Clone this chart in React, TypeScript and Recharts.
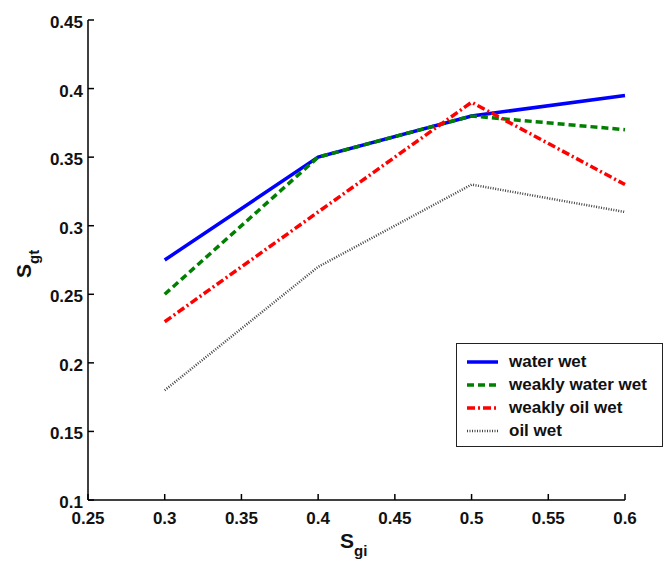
import { LineChart, Line, XAxis, YAxis } from 'recharts'

const sgi = [0.3, 0.4, 0.5, 0.6]
const waterWet = [0.275, 0.35, 0.38, 0.395]
const weaklyWaterWet = [0.25, 0.35, 0.38, 0.37]
const weaklyOilWet = [0.23, 0.31, 0.39, 0.33]
const oilWet = [0.18, 0.27, 0.33, 0.31]

const xTicks = [0.25, 0.3, 0.35, 0.4, 0.45, 0.5, 0.55, 0.6]
const yTicks = [0.1, 0.15, 0.2, 0.25, 0.3, 0.35, 0.4, 0.45]

const data = sgi.map((x, i) => ({
  x,
  waterWet: waterWet[i],
  weaklyWaterWet: weaklyWaterWet[i],
  weaklyOilWet: weaklyOilWet[i],
  oilWet: oilWet[i],
}))

const series = [
  { key: 'waterWet', name: 'water wet', color: '#0000ff', width: 3.5, dash: undefined },
  { key: 'weaklyWaterWet', name: 'weakly water wet', color: '#007f00', width: 3.5, dash: '7 4' },
  { key: 'weaklyOilWet', name: 'weakly oil wet', color: '#ff0000', width: 3.5, dash: '8 3 2 3' },
  { key: 'oilWet', name: 'oil wet', color: '#444444', width: 2.5, dash: '1 1.5' },
]

const font = '"Liberation Sans", Arial, sans-serif'

function XTick({ x, y, payload }: any) {
  return (
    <g>
      <line x1={x} y1={y} x2={x} y2={y - 6} stroke="#000" strokeWidth={1.5} />
      <text x={x} y={y + 24} textAnchor="middle" fontSize={17} fontWeight="bold" fontFamily={font} fill="#111">
        {payload.value}
      </text>
    </g>
  )
}

function YTick({ x, y, payload }: any) {
  return (
    <g>
      <line x1={x} y1={y} x2={x + 6} y2={y} stroke="#000" strokeWidth={1.5} />
      <text x={x - 5} y={y + 8} textAnchor="end" fontSize={17} fontWeight="bold" fontFamily={font} fill="#111">
        {payload.value}
      </text>
    </g>
  )
}

function LegendBox() {
  return (
    <div style={{
      position: 'absolute',
      left: 456,
      top: 343,
      border: '1.5px solid #222',
      background: '#fff',
      padding: '6px 10px 4px 9px',
      fontFamily: font,
      fontSize: 17,
      fontWeight: 'bold',
      color: '#111',
      width: 186,
    }}>
      {series.map(s => (
        <div key={s.key} style={{ display: 'flex', alignItems: 'center', height: 23, whiteSpace: 'nowrap' }}>
          <svg width={34} height={10} style={{ marginRight: 9 }}>
            <line x1={1} y1={5} x2={32} y2={5} stroke={s.color} strokeWidth={s.width} strokeDasharray={s.dash} />
          </svg>
          <span>{s.name}</span>
        </div>
      ))}
    </div>
  )
}

export default function App() {
  return (
    <div style={{ position: 'absolute', left: 0, top: 0, width: 667, height: 563, background: '#fff' }}>
      <LineChart width={667} height={563} data={data} margin={{ top: 20, right: 42, left: 0, bottom: 0 }}>
        <XAxis
          dataKey="x"
          type="number"
          domain={[0.25, 0.6]}
          ticks={xTicks}
          tickSize={0}
          tickMargin={0}
          tickLine={false}
          tick={<XTick />}
          height={63}
          stroke="#000"
          strokeWidth={1.5}
          label={{
            content: () => (
              <text x={340} y={548} fontSize={21} fontWeight="bold" fontFamily={font} fill="#111">
                S<tspan fontSize={15} dy={8}>gi</tspan>
              </text>
            ),
          }}
        />
        <YAxis
          type="number"
          domain={[0.1, 0.45]}
          ticks={yTicks}
          width={88}
          tickSize={0}
          tickMargin={0}
          tickLine={false}
          tick={<YTick />}
          stroke="#000"
          strokeWidth={1.5}
          label={{
            content: () => (
              <text x={0} y={0} transform="translate(31 278) rotate(-90)" fontSize={21} fontWeight="bold" fontFamily={font} fill="#111">
                S<tspan fontSize={15} dy={8}>gt</tspan>
              </text>
            ),
          }}
        />
        {series.map(s => (
          <Line
            key={s.key}
            dataKey={s.key}
            name={s.name}
            stroke={s.color}
            strokeWidth={s.width}
            strokeDasharray={s.dash}
            dot={false}
            activeDot={false}
            isAnimationActive={false}
          />
        ))}
      </LineChart>
      <LegendBox />
    </div>
  )
}
